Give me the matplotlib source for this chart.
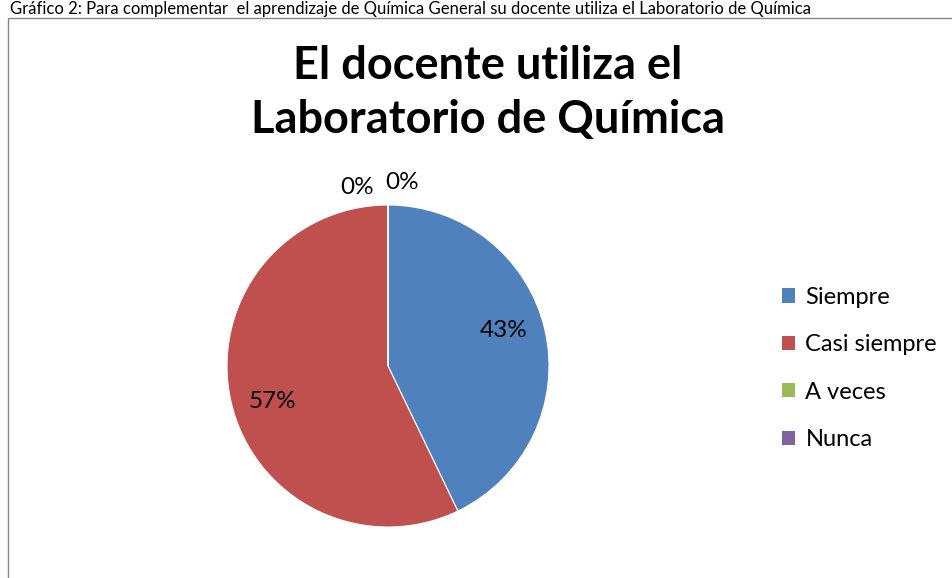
import matplotlib
matplotlib.use("Agg")
import matplotlib.pyplot as plt
from matplotlib.patches import Rectangle
import numpy as np

categories = ["Siempre", "Casi siempre", "A veces", "Nunca"]
values = [3, 4, 0, 0]
colors = ["#4F81BD", "#C0504D", "#9BBB59", "#8064A2"]
title = "El docente utiliza el\nLaboratorio de Química"
caption = "Gráfico 2: Para complementar  el aprendizaje de Química General su docente utiliza el Laboratorio de Química"

plt.rcParams['font.family'] = ['Lato', 'DejaVu Sans']

W, H = 952, 578
fig = plt.figure(figsize=(W/100, H/100), dpi=100)
fig.patch.set_facecolor("white")

# chart frame
fig.add_artist(Rectangle((8/W, -0.05), 1.0, 1 - 18/H + 0.05, transform=fig.transFigure,
                         fill=False, edgecolor="#868686", linewidth=1.0))
# caption at top
fig.text(10/W, 1 - 1/H, caption, fontsize=12, color="black", va="top", ha="left")

fig.text(488/W, 1 - 93/H, title, fontsize=32.5, fontweight="bold", ha="center", va="center",
         linespacing=1.38)

cx, cy, r = 388, 366, 161
ax = fig.add_axes([(cx - r)/W, (H - cy - r)/H, 2*r/W, 2*r/H])
total = sum(values)
wedges, _ = ax.pie(values, colors=colors, startangle=90, counterclock=False, radius=1.0,
                   wedgeprops=dict(edgecolor="white", linewidth=0.8))
ax.set_xlim(-1, 1)
ax.set_ylim(-1, 1)
ax.set_aspect("equal")
ax.axis("off")

# percentage labels
zero_offsets = [(-0.19, 1.11), (0.09, 1.14)]
zi = 0
for w, v in zip(wedges, values):
    pct = f"{round(100*v/total):d}%"
    if v > 0:
        ang = np.deg2rad((w.theta1 + w.theta2) / 2 + 4)
        d = 0.75
        ax.text(d*np.cos(ang), d*np.sin(ang), pct, ha="center", va="center", fontsize=17.5)
    else:
        x, y = zero_offsets[zi]; zi += 1
        ax.text(x, y, pct, ha="center", va="center", fontsize=17.5, clip_on=False)

# legend
handles = [Rectangle((0, 0), 1, 1, facecolor=c, edgecolor="none") for c in colors]
leg = fig.legend(handles, categories, loc="upper left", bbox_to_anchor=(770/W, 1 - 275/H),
                 frameon=False, fontsize=17, handlelength=0.55, handleheight=0.55,
                 handletextpad=0.45, labelspacing=1.12, borderpad=0)

fig.savefig("out.png", dpi=100)
